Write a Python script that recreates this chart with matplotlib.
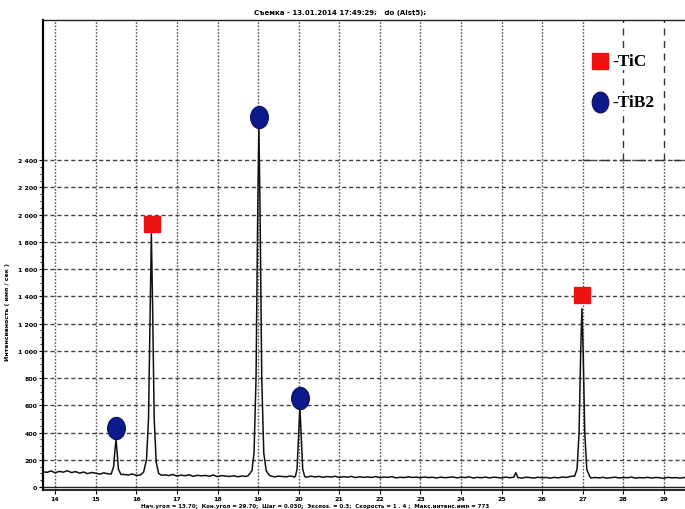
import numpy as np
import matplotlib
matplotlib.use("Agg")
import matplotlib.pyplot as plt
from matplotlib.path import Path
from matplotlib.transforms import Affine2D

# --- scan data (2theta, counts) ---
base_start, base_step = 13.7, 0.1
base_counts = [
    112, 108, 118, 104, 115, 109, 120, 106, 113, 102,
    110, 98, 107, 101, 95, 104, 97, 100, 93, 99,
    92, 88, 96, 85, 91, 87, 94, 83, 90, 86,
    89, 84, 92, 80, 87, 83, 90, 78, 86, 82,
    85, 79, 88, 76, 84, 80, 77, 83, 75, 81,
    78, 84, 80, 82, 79, 76, 83, 74, 80, 77,
    75, 81, 73, 79, 76, 72, 80, 74, 78, 71,
    77, 73, 79, 70, 76, 72, 78, 69, 75, 71,
    74, 70, 77, 68, 73, 71, 76, 67, 72, 69,
    75, 70, 73, 67, 74, 69, 72, 66, 73, 68,
    71, 74, 67, 72, 69, 75, 66, 71, 68, 73,
    67, 72, 70, 66, 73, 68, 71, 70, 65, 72,
    69, 66, 72, 68, 70, 65, 71, 67, 74, 70,
    78, 74, 70, 68, 72, 66, 70, 67, 71, 65,
    69, 72, 66, 70, 68, 73, 65, 69, 67, 71,
    66, 70, 68, 64, 71, 67, 69, 65, 70, 66, 68,
]

peak1_x = [15.38, 15.44, 15.47, 15.50, 15.53, 15.56, 15.62]
peak1_y = [95, 150, 260, 350, 240, 130, 92]
peak2_x = [16.10, 16.18, 16.25, 16.30, 16.34, 16.37, 16.40, 16.44, 16.49, 16.55, 16.62]
peak2_y = [88, 110, 200, 500, 1300, 1860, 1350, 500, 180, 100, 86]
peak3_x = [18.75, 18.85, 18.90, 18.95, 18.99, 19.02, 19.05, 19.09, 19.14, 19.20, 19.28]
peak3_y = [82, 120, 250, 800, 2000, 2650, 2000, 800, 250, 120, 85]
peak4_x = [19.92, 19.96, 20.00, 20.03, 20.06, 20.10, 20.15]
peak4_y = [78, 130, 400, 590, 400, 130, 76]
bump_x = [25.30, 25.35, 25.40]
bump_y = [72, 105, 70]
peak5_x = [26.80, 26.86, 26.91, 26.95, 26.98, 27.01, 27.05, 27.10, 27.17]
peak5_y = [80, 130, 400, 1000, 1310, 1000, 400, 130, 78]

tic_x = [16.39, 26.98]
tic_y = [1934, 1412]
tib2_x = [15.50, 19.02, 20.03]
tib2_y = [434, 2720, 654]

# merge baseline and peaks
bx = np.round(base_start + base_step * np.arange(len(base_counts)), 2)
by = np.array(base_counts, float)
px_list = [peak1_x, peak2_x, peak3_x, peak4_x, bump_x, peak5_x]
py_list = [peak1_y, peak2_y, peak3_y, peak4_y, bump_y, peak5_y]
keep = np.ones(len(bx), bool)
for px in px_list:
    keep &= ~((bx >= px[0]) & (bx <= px[-1]))
xs = np.concatenate([bx[keep]] + [np.array(p) for p in px_list])
ys = np.concatenate([by[keep]] + [np.array(p, float) for p in py_list])
order = np.argsort(xs)
xs, ys = xs[order], ys[order]

fig = plt.figure(figsize=(6.85, 5.1), dpi=100)
ax = fig.add_axes([43 / 685, 19 / 510, 1 - 43 / 685, (491 - 21) / 510])
ax.set_xlim(13.7, 29.52)
ax.set_ylim(-22, 3430)

# grid
for g in range(14, 30):
    ax.plot([g, g], [-22, 2400], ls=(0, (1.2, 1.2)), color="#555555", lw=1.0, zorder=1)
    if g < 28:
        ax.plot([g, g], [2400, 3430], ls=(0, (1.2, 1.2)), color="#555555", lw=1.0, zorder=1)
    else:
        ax.plot([g, g], [2400, 3430], ls=(0, (5, 4)), color="#333333", lw=1.0, zorder=1)
for h in range(200, 2401, 200):
    ax.plot([13.7, 29.52], [h, h], ls=(0, (3, 2)), color="#444444", lw=1.0, zorder=1)
ax.plot([27.0, 29.52], [2400, 2400], ls=(0, (6, 3, 1, 3)), color="#333333", lw=1.0, zorder=1)
ax.axhline(0, color="#222222", lw=1.0, zorder=2)

ax.plot(xs, ys, color="#111111", lw=1.1, zorder=3)

# phase markers
ellipse = Path.unit_circle().transformed(Affine2D().scale(0.8, 1.0))
ax.plot(tic_x, tic_y, ls="none", marker="s", ms=12, color="#ee1111", zorder=5)
ax.plot(tib2_x, tib2_y, ls="none", marker=ellipse, ms=16, color="#0d1a8c",
        mec="#0a0f5a", mew=0.8, zorder=5)

# legend
ax.plot([0.868], [0.913], ls="none", marker="s", ms=11, color="#ee1111",
        transform=ax.transAxes, clip_on=False, zorder=6)
ax.plot([0.868], [0.826], ls="none", marker=ellipse, ms=15, color="#0d1a8c",
        mec="#0a0f5a", mew=0.8, transform=ax.transAxes, clip_on=False, zorder=6)
ax.text(0.887, 0.913, "-TiC", transform=ax.transAxes, fontsize=12.5,
        family="Liberation Serif", weight="bold", va="center", ha="left", zorder=6,
        bbox=dict(fc="white", ec="none", pad=0.5))
ax.text(0.887, 0.826, "-TiB2", transform=ax.transAxes, fontsize=12.5,
        family="Liberation Serif", weight="bold", va="center", ha="left", zorder=6,
        bbox=dict(fc="white", ec="none", pad=0.5))

# axes / ticks
for s in ["top", "right"]:
    ax.spines[s].set_visible(False)
ax.spines["left"].set_linewidth(1.6)
ax.spines["bottom"].set_linewidth(1.2)
ax.plot([13.7, 29.52], [3430, 3430], color="#222222", lw=1.0, clip_on=False)
ax.set_xticks(range(14, 30))
ax.set_xticklabels([str(v) for v in range(14, 30)], fontsize=4.5, weight="bold")
ax.set_yticks(range(0, 2401, 200))
ax.set_yticklabels([f"{v:,}".replace(",", " ") for v in range(0, 2401, 200)],
                   fontsize=4.5, weight="bold")
ax.set_yticks(range(0, 2401, 50), minor=True)
ax.tick_params(axis="both", length=3, width=0.8, pad=1.0)
ax.tick_params(axis="y", which="minor", length=2, width=0.6)
ax.set_ylabel("Интенсивность ( имп / сек )", fontsize=4.5, weight="bold", labelpad=3)
ax.yaxis.set_label_coords(-0.052, 0.38)

fig.text(0.497, 0.975, "Съемка - 13.01.2014 17:49:29;   do (Alst5);",
         fontsize=5, weight="bold", ha="center", va="center")
fig.text(0.46, 0.001,
         "Нач.угол = 13.70;  Кон.угол = 29.70;  Шаг = 0.030;  Экспоз. = 0.3;  Скорость = 1 . 4 ;  Макс.интенс.имп = 773",
         fontsize=4, weight="bold", ha="center", va="bottom")

fig.savefig("out.png", dpi=100)
